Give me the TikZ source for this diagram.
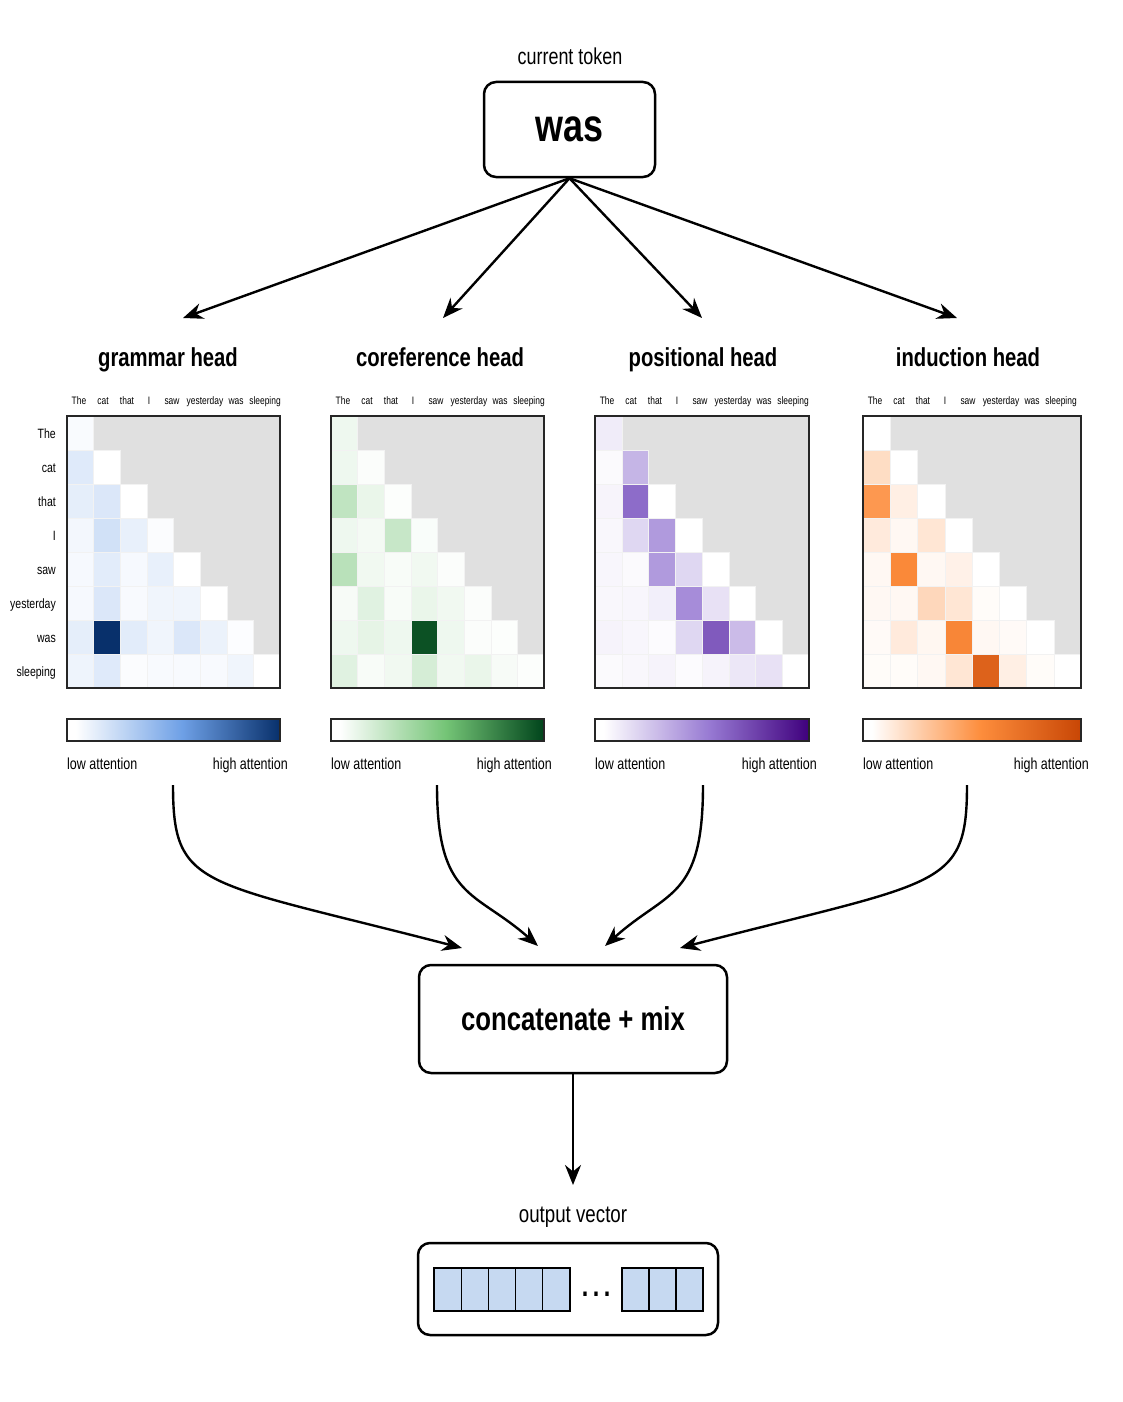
\documentclass[tikz,border=0pt]{standalone}
\usepackage{fontspec}
\setmainfont{Liberation Sans}[FakeStretch=0.78]
\usetikzlibrary{arrows.meta}

\definecolor{mapgray}{RGB}{224,224,224}
\definecolor{gmid}{RGB}{110,160,230}
\definecolor{gdark}{RGB}{8,48,107}
\definecolor{cmid}{RGB}{116,196,118}
\definecolor{cdark}{RGB}{0,68,27}
\definecolor{pmid}{RGB}{150,120,210}
\definecolor{pdark}{RGB}{63,0,125}
\definecolor{omid}{RGB}{253,141,60}
\definecolor{odark}{RGB}{200,70,5}
\definecolor{vecblue}{RGB}{198,217,241}

% the shaded path takes the 25bp--75bp part of each shading
\pgfdeclarehorizontalshading{grambar}{100bp}{color(0bp)=(white); color(27bp)=(white); color(52bp)=(gmid); color(75bp)=(gdark); color(100bp)=(gdark)}
\pgfdeclarehorizontalshading{corefbar}{100bp}{color(0bp)=(white); color(27bp)=(white); color(52bp)=(cmid); color(75bp)=(cdark); color(100bp)=(cdark)}
\pgfdeclarehorizontalshading{posibar}{100bp}{color(0bp)=(white); color(27bp)=(white); color(52bp)=(pmid); color(75bp)=(pdark); color(100bp)=(pdark)}
\pgfdeclarehorizontalshading{inducbar}{100bp}{color(0bp)=(white); color(27bp)=(white); color(52bp)=(omid); color(75bp)=(odark); color(100bp)=(odark)}

\tikzset{
  tokbox/.style={draw, line width=2.5pt, rounded corners=12pt, inner sep=0pt},
  arr/.style={-{Stealth[length=20pt,width=16pt]}, line width=2.4pt},
  title/.style={font=\fontsize{26}{30}\selectfont\bfseries, anchor=base, inner sep=0pt},
  caption/.style={font=\fontsize{23}{28}\selectfont, anchor=base, inner sep=0pt},
  collab/.style={font=\fontsize{10.8}{12}\selectfont, anchor=base, inner sep=0pt},
  rowlab/.style={font=\fontsize{13.5}{15}\selectfont, anchor=base east, inner sep=0pt},
  barlab/.style={font=\fontsize{16}{19}\selectfont, inner sep=0pt},
  mapframe/.style={draw=black!85, line width=1.5pt},
  cellbox/.style={draw=black!5, line width=0.5pt},
  vcell/.style={draw, fill=vecblue, line width=1.2pt}
}

% name, left x, width, mid colour, dark colour, rows
\newcommand{\headmap}[6]{%
  \pgfmathsetmacro\cellw{#3/8}
  \fill[mapgray] (#2,416) rectangle ++(#3,272);
  \foreach \row [count=\r from 0] in {#6} {
    \foreach \v [count=\c from 0] in \row {
      \pgfmathtruncatemacro\lowpart{min(\v,100)}
      \pgfmathtruncatemacro\highpart{max(\v-100,0)}
      \colorlet{cellc}{#4!\lowpart!white}
      \colorlet{cellc}{#5!\highpart!cellc}
      \filldraw[cellbox, fill=cellc] (#2+\c*\cellw,416+\r*34) rectangle ++(\cellw,34);
    }
  }
  \draw[mapframe] (#2,416) rectangle ++(#3,272);
  \foreach \lab/\lx [count=\i] in {The/12,cat/36,that/60,I/82,saw/105,yesterday/138,was/169,sleeping/198}
    \node[collab] (#1-col\i) at (#2+\lx,404.5) {\lab};
  \shadedraw[shading=#1bar, mapframe] (#2,719) rectangle ++(#3,22);
  \node[barlab, anchor=base west] (#1-low) at (#2,769) {low attention};
  \node[barlab, anchor=base east] (#1-high) at (#2+#3+8,769) {high attention};
}

\begin{document}
\begin{tikzpicture}[x=1pt, y=-1pt]
  \fill[white] (0,0) rectangle (1122,1402);
  \useasboundingbox (0,0) rectangle (1122,1402);

  % current token
  \node[caption] (cap) at (570,65) {current token};
  \node[tokbox, minimum width=171pt, minimum height=95pt,
        font=\fontsize{46}{50}\selectfont\bfseries] (tok) at (569.5,129.5) {was};

  \coordinate (a1) at (183,318);
  \coordinate (a2) at (443,318);
  \coordinate (a3) at (702,318);
  \coordinate (a4) at (957,318);
  \foreach \k in {1,...,4}
    \draw[arr] (tok.south) -- (a\k);

  % head titles
  \node[title] (t1) at (168,366) {grammar head};
  \node[title] (t2) at (440,366) {coreference head};
  \node[title] (t3) at (703,366) {positional head};
  \node[title] (t4) at (968,366) {induction head};

  % row labels
  \foreach \lab [count=\i from 0] in {The,cat,that,I,saw,yesterday,was,sleeping}
    \node[rowlab] (row\i) at (56,438+\i*34) {\lab};

  \headmap{gram}{67}{213}{gmid}{gdark}{%
    {4},{22,0},{18,25,0},{8,32,16,3},{6,20,6,16,0},{6,25,5,10,10,0},
    {18,200,20,10,25,14,2},{12,22,3,5,5,5,10,0}}
  \headmap{coref}{331}{213}{cmid}{cdark}{%
    {12},{12,3},{45,15,2},{12,8,40,4},{50,10,5,10,3},{6,22,5,15,10,3},
    {12,18,12,190,12,3,2},{22,5,10,30,10,15,6,2}}
  \headmap{posi}{595}{214}{pmid}{pdark}{%
    {14},{4,55},{8,110,0},{6,30,75,0},{7,4,75,30,0},{6,7,12,85,22,0},
    {9,7,3,30,125,50,0},{4,6,9,3,9,18,22,0}}
  \headmap{induc}{863}{218}{omid}{odark}{%
    {0},{30,0},{90,14,0},{18,6,22,0},{6,105,6,12,0},{6,6,35,22,3,0},
    {4,18,7,110,6,4,0},{3,3,6,22,160,14,3,0}}

  % concatenate + mix
  \node[tokbox, minimum width=308pt, minimum height=108pt,
        font=\fontsize{33}{36}\selectfont\bfseries] (mix) at (573,1019) {concatenate + mix};

  \coordinate (s1) at (173,785);
  \coordinate (s2) at (437,785);
  \coordinate (s3) at (703,785);
  \coordinate (s4) at (967,785);
  \coordinate (e1) at (462,948);
  \coordinate (e2) at (538,946);
  \coordinate (e3) at (605,946);
  \coordinate (e4) at (680,948);
  \draw[arr] (s1) .. controls (173,890) and (200,880) .. (e1);
  \draw[arr] (s2) .. controls (437,900) and (475,890) .. (e2);
  \draw[arr] (s3) .. controls (703,900) and (667,890) .. (e3);
  \draw[arr] (s4) .. controls (967,890) and (940,880) .. (e4);

  % output vector
  \coordinate (outtip) at (573,1185);
  \draw[arr] (mix.south) -- (outtip);
  \node[caption, font=\fontsize{24}{28}\selectfont] (outcap) at (573,1222) {output vector};
  \node[tokbox, minimum width=300pt, minimum height=92pt] (vec) at (568,1289) {};
  \foreach \k in {0,...,4}
    \draw[vcell] (434+\k*27.2,1268) rectangle ++(27.2,43);
  \foreach \k in {0,...,2}
    \draw[vcell] (622+\k*27,1268) rectangle ++(27,43);
  \node[font=\fontsize{30}{32}\selectfont\bfseries, anchor=base, inner sep=0pt] (dots) at (596,1296) {.\hspace{4.5pt}.\hspace{4.5pt}.};
\end{tikzpicture}
\end{document}
